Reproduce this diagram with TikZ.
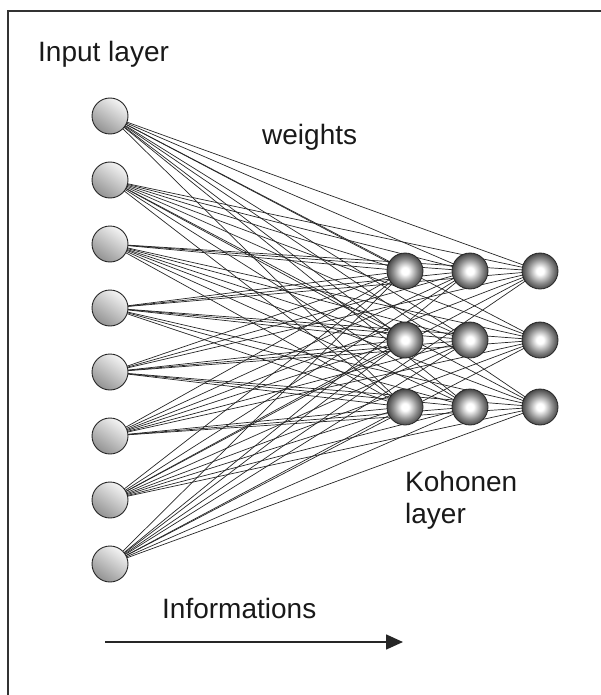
\documentclass[tikz,border=0pt]{standalone}
\usepackage{fontspec}
\setmainfont{Liberation Sans}
\usetikzlibrary{arrows.meta}
\pgfdeclareradialshading{kohball}{\pgfpoint{0bp}{0bp}}{color(0bp)=(white); color(5bp)=(white); color(17bp)=(black!45); color(27bp)=(black!78); color(35bp)=(black!90); color(50bp)=(black!90)}
\begin{document}
\begin{tikzpicture}[x=1pt,y=-1pt,
  inp/.style={circle,minimum size=36pt,inner sep=0pt,draw=black!85,line width=0.9pt,
    shading=axis,top color=gray!8,bottom color=gray!85,shading angle=-35},
  koh/.style={circle,minimum size=36pt,inner sep=0pt,draw=black!85,line width=0.8pt,
    shading=kohball},
  wire/.style={black!85,line width=0.7pt},
  lbl/.style={font=\fontsize{28}{32}\selectfont,anchor=base west,inner sep=0pt,text=black!90}]
\useasboundingbox (0,0) rectangle (601,695);
\draw[line width=2pt,black!80] (8,695) -- (8,11) -- (601,11);
% input nodes
\foreach \i in {1,...,8}{
  \coordinate (ic\i) at (110,{116+(\i-1)*64});
}
% kohonen nodes coordinates
\foreach \c/\x in {1/405,2/470,3/540}{
  \foreach \r/\y in {1/271,2/340,3/407}{
    \coordinate (kc\c\r) at (\x,\y);
  }
}
% wires
\foreach \i in {1,...,8}{
  \foreach \c in {1,2,3}{
    \foreach \r in {1,2,3}{
      \draw[wire] (ic\i) -- (kc\c\r);
    }
  }
}
\foreach \i in {1,...,8}{
  \node[inp] (in\i) at (ic\i) {};
}
\foreach \c in {1,2,3}{
  \foreach \r in {1,2,3}{
    \node[koh] (k\c\r) at (kc\c\r) {};
  }
}
\node[lbl] (tin) at (38,62) {Input layer};
\node[lbl] (tw) at (262,145) {weights};
\node[lbl] (tk) at (405,491) {Kohonen};
\node[lbl] (tl) at (405,523) {layer};
\node[lbl] (tinf) at (162,618) {Informations};
\coordinate (a1) at (105,642);
\coordinate (a2) at (403,642);
\draw[line width=1.6pt,black!85,-{Triangle[length=17pt,width=15pt]}] (a1) -- (a2);
\end{tikzpicture}
\end{document}
